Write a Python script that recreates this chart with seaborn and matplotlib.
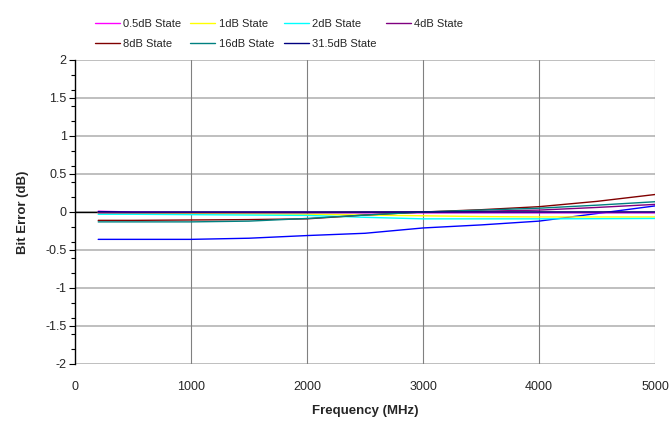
import numpy as np
import pandas as pd
import matplotlib
matplotlib.use("Agg")
import matplotlib.pyplot as plt
from matplotlib.ticker import MultipleLocator
import seaborn as sns

freq = [200, 500, 1000, 1500, 2000, 2500, 3000, 3500, 4000, 4500, 5000]
s05 = [0.01, 0.0, -0.005, -0.005, -0.005, -0.01, -0.01, -0.01, -0.01, -0.01, -0.01]
s1 = [-0.01, -0.015, -0.02, -0.025, -0.03, -0.04, -0.05, -0.06, -0.065, -0.065, -0.065]
s2 = [-0.03, -0.03, -0.035, -0.04, -0.045, -0.07, -0.09, -0.09, -0.09, -0.088, -0.085]
s4 = [-0.01, -0.01, -0.01, -0.01, -0.01, -0.005, 0.0, 0.01, 0.025, 0.06, 0.10]
s8 = [-0.11, -0.11, -0.105, -0.1, -0.09, -0.04, 0.0, 0.03, 0.07, 0.14, 0.23]
s16 = [-0.13, -0.13, -0.13, -0.12, -0.085, -0.04, 0.0, 0.025, 0.05, 0.09, 0.135]
s315 = [0.005, 0.0, 0.0, 0.0, 0.0, 0.0, 0.0, 0.0, 0.0, 0.0, 0.0]
extra = [-0.36, -0.36, -0.36, -0.345, -0.31, -0.28, -0.21, -0.17, -0.12, -0.02, 0.08]

labels = ["0.5dB State", "1dB State", "2dB State", "4dB State",
          "8dB State", "16dB State", "31.5dB State"]
colors = ["#FF00FF", "#FFFF00", "#00FFFF", "#800080",
          "#800000", "#008080", "#000080"]
series = [s05, s1, s2, s4, s8, s16, s315]

rows = []
for lab, vals in zip(labels, series):
    for f, v in zip(freq, vals):
        rows.append({"Frequency": f, "Error": v, "State": lab})
df = pd.DataFrame(rows)
df_extra = pd.DataFrame({"Frequency": freq, "Error": extra})

sns.set_style("white")
plt.rcParams["font.family"] = ["Liberation Sans", "DejaVu Sans"]

fig = plt.figure(figsize=(6.72, 4.22), dpi=100)
ax = fig.add_axes([75 / 672, 1 - 364 / 422, 580 / 672, 304 / 422])

# grid
for y in np.arange(-2, 2.01, 0.5):
    ax.axhline(y, color="#b4b4b4", lw=1.2, zorder=0)
for x in range(1000, 5001, 1000):
    ax.axvline(x, color="#808080", lw=0.8, zorder=0)
ax.axhline(0, color="black", lw=1.0, zorder=1)

sns.lineplot(data=df_extra, x="Frequency", y="Error", color="#0000FF",
             lw=1.0, ax=ax, legend=False, zorder=2)
sns.lineplot(data=df, x="Frequency", y="Error", hue="State",
             hue_order=labels, palette=dict(zip(labels, colors)),
             lw=1.0, ax=ax, zorder=3)

ax.set_xlim(0, 5000)
ax.set_ylim(-2, 2)
ax.set_xticks(range(0, 5001, 1000))
ax.set_yticks(np.arange(-2, 2.01, 0.5))
ax.set_yticklabels(["-2", "-1.5", "-1", "-0.5", "0", "0.5", "1", "1.5", "2"])
ax.yaxis.set_minor_locator(MultipleLocator(0.2))
ax.tick_params(axis="y", which="major", direction="out", length=4, width=0.8,
               color="black", labelsize=9, pad=2, left=True)
ax.tick_params(axis="y", which="minor", direction="out", length=3, width=0.8,
               color="black", left=True)
ax.tick_params(axis="x", length=0, labelsize=9, pad=12)
for s in ["top", "right", "bottom"]:
    ax.spines[s].set_visible(False)
ax.spines["left"].set_color("black")
ax.spines["left"].set_linewidth(1.0)

ax.set_xlabel("Frequency (MHz)", fontsize=9.5, fontweight="bold", labelpad=9)
ax.set_ylabel("Bit Error (dB)", fontsize=9.5, fontweight="bold", labelpad=12)

handles, labs = ax.get_legend_handles_labels()
hmap = dict(zip(labs, handles))
order = ["0.5dB State", "8dB State", "1dB State", "16dB State",
         "2dB State", "31.5dB State", "4dB State"]
ax.legend([hmap[o] for o in order], order, ncol=4, frameon=False,
          fontsize=8, handlelength=2.25, handletextpad=0.3,
          columnspacing=0.85, labelspacing=0.95, borderpad=0,
          loc="upper left", bbox_to_anchor=(89 / 672, 1 - 13 / 422),
          bbox_transform=fig.transFigure)

fig.savefig("out.png", dpi=100)
